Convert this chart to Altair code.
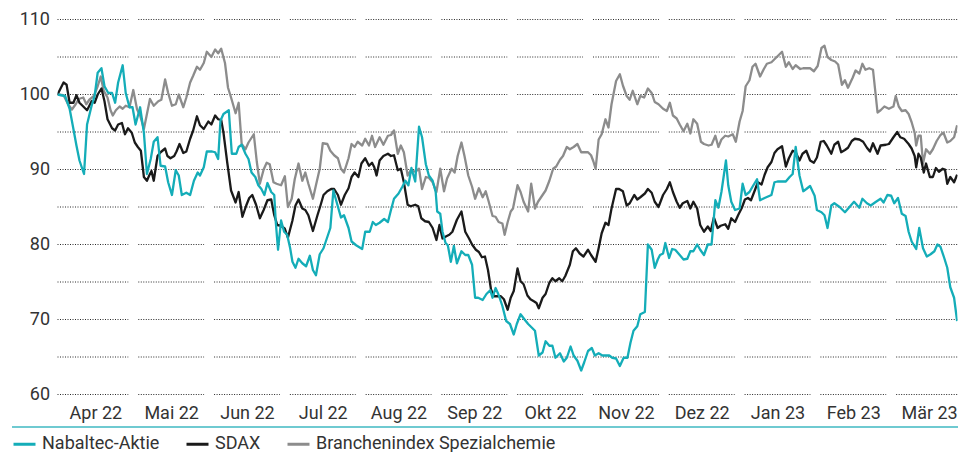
import json
import altair as alt
import pandas as pd

MONTHS = ["Apr 22", "Mai 22", "Jun 22", "Jul 22", "Aug 22", "Sep 22",
          "Okt 22", "Nov 22", "Dez 22", "Jan 23", "Feb 23", "Mär 23"]
SERIES = ["Nabaltec-Aktie", "SDAX", "Branchenindex Spezialchemie"]
COLORS = ["#14adb8", "#1a1a1a", "#8c8c8c"]
GRID_LEVELS = [60, 65, 70, 75, 80, 85, 90, 95, 100, 105, 110]
LABEL_LEVELS = [60, 70, 80, 90, 100, 110]
X_END = 11.875  # last data point, in months since 1 Apr 2022

# Nabaltec-Aktie (month position, indexed value)
nab_m = [0.00, 0.10, 0.16, 0.21, 0.25, 0.29, 0.35, 0.39, 0.45, 0.49, 0.53, 0.58, 0.62, 0.67, 0.72, 0.76, 0.80, 0.86, 0.90, 0.95,
         0.99, 1.03, 1.09, 1.14, 1.18, 1.23, 1.27, 1.32, 1.36, 1.42, 1.46, 1.51, 1.56, 1.60, 1.64, 1.70, 1.75, 1.80, 1.85, 1.88,
         1.93, 1.97, 2.04, 2.08, 2.12, 2.15, 2.19, 2.26, 2.30, 2.36, 2.39, 2.43, 2.48, 2.52, 2.56, 2.61, 2.65, 2.69, 2.73, 2.77,
         2.82, 2.86, 2.88, 2.91, 2.95, 2.99, 3.03, 3.07, 3.10, 3.14, 3.18, 3.23, 3.28, 3.33, 3.37, 3.41, 3.46, 3.51, 3.56, 3.60,
         3.64, 3.69, 3.74, 3.78, 3.84, 3.88, 3.94, 4.02, 4.06, 4.12, 4.16, 4.20, 4.25, 4.31, 4.36, 4.40, 4.44, 4.50, 4.55, 4.59,
         4.63, 4.67, 4.72, 4.77, 4.81, 4.86, 4.90, 4.95, 4.99, 5.01, 5.05, 5.08, 5.12, 5.15, 5.19, 5.23, 5.27, 5.33, 5.38, 5.42,
         5.47, 5.51, 5.55, 5.61, 5.66, 5.71, 5.74, 5.78, 5.82, 5.87, 5.92, 5.97, 6.02, 6.06, 6.11, 6.17, 6.21, 6.25, 6.30, 6.35,
         6.40, 6.44, 6.49, 6.53, 6.57, 6.63, 6.68, 6.72, 6.77, 6.81, 6.86, 6.91, 6.95, 7.00, 7.05, 7.09, 7.14, 7.19, 7.28, 7.32,
         7.37, 7.42, 7.47, 7.52, 7.56, 7.60, 7.65, 7.69, 7.75, 7.79, 7.84, 7.88, 7.92, 7.95, 7.99, 8.02, 8.07, 8.11, 8.15, 8.21,
         8.26, 8.31, 8.35, 8.39, 8.44, 8.48, 8.53, 8.58, 8.63, 8.68, 8.72, 8.76, 8.82, 8.85, 8.89, 8.94, 9.00, 9.04, 9.08, 9.13,
         9.17, 9.23, 9.27, 9.33, 9.42, 9.46, 9.50, 9.56, 9.61, 9.66, 9.70, 9.74, 9.79, 9.84, 9.88, 9.93, 9.99, 10.02, 10.08, 10.12,
         10.16, 10.21, 10.25, 10.32, 10.39, 10.45, 10.51, 10.58, 10.62, 10.68, 10.73, 10.80, 10.86, 10.90, 10.95, 11.00, 11.04, 11.09, 11.14, 11.19,
         11.23, 11.27, 11.33, 11.37, 11.42, 11.47, 11.52, 11.57, 11.61, 11.65, 11.70, 11.74, 11.78, 11.83, 11.87]
nab_v = [100.0, 99.8, 98.1, 95.4, 93.2, 91.2, 89.4, 96.0, 98.5, 99.8, 102.9, 103.5, 101.1, 100.2, 100.2, 98.9, 101.6, 103.9, 100.2, 98.3,
         98.3, 96.0, 98.3, 94.9, 89.4, 91.4, 93.7, 94.3, 90.5, 90.4, 88.3, 86.6, 89.9, 89.2, 86.6, 86.9, 86.6, 88.5, 89.6, 89.2,
         90.3, 92.4, 92.4, 92.3, 91.4, 96.5, 97.4, 97.9, 92.1, 92.1, 93.0, 93.3, 92.1, 91.4, 89.6, 89.0, 87.9, 87.4, 86.6, 88.2,
         87.0, 86.6, 83.0, 79.3, 83.2, 81.7, 81.3, 79.5, 77.7, 76.9, 78.1, 77.5, 77.1, 78.5, 76.6, 75.9, 78.7, 79.5, 81.0, 82.2,
         87.2, 85.4, 83.6, 83.9, 82.2, 80.4, 79.9, 79.4, 81.7, 81.7, 83.0, 82.6, 82.9, 83.4, 83.0, 84.6, 86.1, 86.8, 87.7, 88.5,
         87.9, 90.2, 88.4, 95.7, 94.3, 90.7, 89.2, 88.5, 87.0, 84.4, 84.1, 81.7, 80.2, 79.9, 77.7, 79.8, 77.5, 79.1, 78.6, 78.6,
         77.3, 72.9, 72.9, 72.6, 73.4, 73.9, 72.9, 74.2, 73.3, 71.8, 69.8, 69.4, 68.0, 69.4, 70.7, 69.9, 69.4, 69.0, 68.5, 65.2,
         65.6, 67.1, 66.5, 66.5, 64.9, 65.5, 64.4, 64.9, 66.4, 65.2, 64.5, 63.2, 64.3, 65.8, 66.2, 65.2, 65.5, 65.2, 65.2, 64.9,
         64.8, 63.8, 64.9, 64.9, 66.9, 68.5, 69.1, 70.7, 71.0, 80.0, 79.3, 76.9, 78.0, 78.6, 78.8, 80.2, 78.2, 79.4, 79.3, 78.6,
         78.0, 78.1, 79.1, 79.1, 80.0, 79.3, 78.6, 80.0, 80.0, 85.9, 84.9, 87.0, 91.2, 87.9, 85.7, 84.6, 84.8, 88.1, 86.6, 87.0,
         87.7, 88.7, 85.9, 86.2, 86.6, 88.3, 88.4, 88.4, 88.4, 89.0, 89.4, 93.0, 89.2, 87.1, 87.4, 87.8, 86.5, 84.6, 84.3, 83.9,
         82.2, 85.2, 85.5, 85.0, 84.3, 85.0, 85.7, 84.9, 86.1, 85.5, 85.2, 85.7, 86.1, 85.6, 86.6, 86.5, 85.5, 86.2, 84.1, 83.8,
         81.7, 80.4, 79.4, 82.2, 79.5, 78.4, 78.7, 79.1, 80.0, 79.7, 78.2, 76.9, 74.3, 72.9, 69.8]

# SDAX
sdax_m = [0.00, 0.08, 0.12, 0.16, 0.21, 0.25, 0.29, 0.34, 0.39, 0.45, 0.49, 0.53, 0.58, 0.62, 0.66, 0.72, 0.76, 0.80, 0.85, 0.89,
          0.93, 0.98, 1.02, 1.06, 1.10, 1.14, 1.18, 1.21, 1.24, 1.27, 1.32, 1.36, 1.42, 1.45, 1.49, 1.54, 1.57, 1.61, 1.66, 1.70,
          1.75, 1.79, 1.84, 1.88, 1.93, 1.99, 2.03, 2.08, 2.12, 2.16, 2.19, 2.24, 2.29, 2.35, 2.39, 2.44, 2.49, 2.53, 2.57, 2.62,
          2.67, 2.72, 2.77, 2.82, 2.86, 2.90, 2.95, 3.00, 3.04, 3.10, 3.14, 3.18, 3.23, 3.27, 3.31, 3.37, 3.43, 3.47, 3.51, 3.56,
          3.61, 3.65, 3.70, 3.74, 3.79, 3.84, 3.88, 3.92, 3.97, 4.01, 4.06, 4.11, 4.15, 4.18, 4.21, 4.25, 4.30, 4.36, 4.40, 4.44,
          4.49, 4.53, 4.57, 4.62, 4.66, 4.72, 4.76, 4.80, 4.85, 4.90, 4.95, 5.00, 5.04, 5.08, 5.13, 5.17, 5.21, 5.27, 5.33, 5.38,
          5.43, 5.47, 5.52, 5.56, 5.60, 5.64, 5.68, 5.72, 5.76, 5.81, 5.85, 5.89, 5.94, 5.98, 6.02, 6.07, 6.11, 6.15, 6.20, 6.24,
          6.29, 6.32, 6.35, 6.40, 6.44, 6.49, 6.53, 6.57, 6.62, 6.66, 6.70, 6.76, 6.80, 6.84, 6.89, 6.94, 7.00, 7.04, 7.10, 7.14,
          7.18, 7.23, 7.27, 7.31, 7.37, 7.41, 7.46, 7.51, 7.55, 7.61, 7.65, 7.69, 7.75, 7.79, 7.84, 7.88, 7.93, 7.99, 8.04, 8.08,
          8.12, 8.17, 8.21, 8.25, 8.31, 8.35, 8.39, 8.44, 8.48, 8.53, 8.58, 8.62, 8.66, 8.71, 8.75, 8.81, 8.85, 8.89, 8.94, 8.98,
          9.03, 9.07, 9.11, 9.15, 9.20, 9.24, 9.29, 9.33, 9.37, 9.42, 9.46, 9.50, 9.56, 9.61, 9.65, 9.70, 9.74, 9.79, 9.83, 9.88,
          9.93, 9.98, 10.02, 10.07, 10.11, 10.15, 10.21, 10.25, 10.30, 10.34, 10.39, 10.43, 10.48, 10.52, 10.58, 10.63, 10.68, 10.72, 10.76, 10.82,
          10.86, 10.93, 10.97, 11.03, 11.08, 11.12, 11.17, 11.23, 11.27, 11.31, 11.33, 11.36, 11.39, 11.43, 11.46, 11.51, 11.55, 11.59, 11.63, 11.68,
          11.71, 11.74, 11.78, 11.83, 11.87]
sdax_v = [100.0, 101.6, 101.3, 98.9, 98.9, 99.9, 98.9, 98.4, 97.9, 99.1, 98.9, 100.0, 100.8, 99.1, 96.7, 95.5, 95.2, 96.0, 96.2, 94.7,
          95.5, 94.9, 93.6, 93.0, 92.5, 89.0, 88.5, 89.2, 89.8, 88.5, 91.8, 92.3, 92.8, 91.8, 91.5, 91.8, 92.4, 93.4, 92.2, 92.4,
          94.1, 95.2, 97.1, 95.9, 95.4, 96.4, 96.0, 97.2, 96.7, 96.6, 94.9, 90.9, 87.2, 85.6, 87.0, 83.7, 85.2, 86.2, 86.6, 85.3,
          83.5, 84.6, 85.9, 86.0, 83.9, 82.6, 82.5, 82.1, 80.9, 83.2, 85.2, 86.0, 84.8, 84.6, 83.9, 81.8, 83.9, 85.2, 86.6, 87.1,
          87.4, 87.4, 86.6, 85.3, 86.6, 87.5, 89.0, 89.6, 89.0, 90.8, 91.5, 90.5, 90.9, 90.3, 89.2, 91.2, 91.8, 92.1, 91.8, 91.9,
          89.9, 90.1, 88.3, 85.3, 85.1, 85.3, 85.1, 83.5, 83.1, 83.0, 82.2, 80.6, 82.6, 80.8, 81.1, 81.3, 81.7, 83.3, 84.4, 81.7,
          80.8, 80.0, 79.3, 79.0, 78.3, 78.4, 76.6, 74.0, 73.1, 73.1, 73.1, 72.7, 71.3, 72.9, 73.8, 76.8, 75.1, 74.7, 73.2, 72.7,
          72.4, 72.2, 71.5, 72.9, 73.4, 74.9, 75.5, 75.1, 75.5, 75.1, 75.8, 77.3, 79.1, 79.5, 78.8, 78.4, 79.3, 78.6, 77.7, 79.5,
          81.5, 82.9, 82.6, 84.8, 87.4, 87.4, 87.1, 85.2, 85.5, 86.6, 86.0, 86.3, 86.8, 87.4, 86.9, 85.7, 85.0, 86.6, 87.4, 88.3,
          87.0, 85.7, 84.9, 85.5, 85.8, 84.8, 85.7, 84.8, 82.6, 81.7, 82.4, 81.8, 83.6, 82.2, 82.5, 82.7, 82.1, 83.5, 83.0, 83.9,
          84.9, 86.0, 86.2, 85.9, 87.2, 88.3, 88.0, 89.3, 90.3, 91.0, 92.2, 92.7, 93.1, 90.4, 91.5, 92.5, 92.3, 91.2, 92.1, 92.5,
          91.2, 90.9, 91.6, 93.7, 93.8, 93.2, 92.1, 93.3, 93.7, 92.3, 92.6, 92.9, 93.8, 94.1, 94.0, 93.7, 92.9, 92.4, 93.5, 92.1,
          93.2, 93.3, 93.4, 94.3, 95.0, 94.3, 94.1, 93.4, 92.8, 91.8, 90.3, 92.1, 91.6, 89.6, 90.8, 89.0, 89.0, 90.2, 89.7, 90.1,
          90.0, 88.1, 89.0, 88.3, 89.3]

# Branchenindex Spezialchemie
chem_m = [0.00, 0.08, 0.14, 0.19, 0.24, 0.28, 0.34, 0.38, 0.42, 0.48, 0.53, 0.57, 0.61, 0.66, 0.70, 0.73, 0.77, 0.82, 0.86, 0.90,
          0.95, 1.00, 1.05, 1.09, 1.14, 1.18, 1.22, 1.27, 1.33, 1.37, 1.42, 1.46, 1.51, 1.56, 1.60, 1.66, 1.70, 1.75, 1.79, 1.84,
          1.88, 1.93, 1.97, 2.03, 2.08, 2.12, 2.16, 2.21, 2.25, 2.29, 2.35, 2.39, 2.43, 2.48, 2.52, 2.59, 2.63, 2.67, 2.72, 2.76,
          2.80, 2.85, 2.89, 2.95, 3.00, 3.04, 3.09, 3.13, 3.18, 3.23, 3.27, 3.31, 3.37, 3.41, 3.46, 3.50, 3.56, 3.60, 3.65, 3.70,
          3.74, 3.78, 3.84, 3.88, 3.92, 3.96, 4.02, 4.06, 4.11, 4.15, 4.19, 4.25, 4.30, 4.36, 4.40, 4.44, 4.49, 4.53, 4.57, 4.62,
          4.66, 4.72, 4.77, 4.81, 4.86, 4.90, 4.95, 5.00, 5.05, 5.10, 5.14, 5.20, 5.24, 5.28, 5.33, 5.37, 5.42, 5.47, 5.51, 5.56,
          5.61, 5.65, 5.69, 5.74, 5.78, 5.82, 5.87, 5.90, 5.94, 5.98, 6.01, 6.07, 6.11, 6.15, 6.21, 6.25, 6.30, 6.34, 6.40, 6.44,
          6.49, 6.54, 6.58, 6.63, 6.67, 6.72, 6.76, 6.81, 6.86, 6.91, 6.95, 7.00, 7.04, 7.07, 7.10, 7.14, 7.18, 7.23, 7.27, 7.31,
          7.37, 7.42, 7.46, 7.51, 7.55, 7.59, 7.65, 7.69, 7.74, 7.79, 7.84, 7.88, 7.93, 7.99, 8.04, 8.08, 8.12, 8.17, 8.21, 8.26,
          8.31, 8.35, 8.39, 8.44, 8.49, 8.53, 8.59, 8.63, 8.68, 8.72, 8.76, 8.81, 8.85, 8.91, 8.95, 9.00, 9.04, 9.08, 9.13, 9.17,
          9.21, 9.27, 9.32, 9.36, 9.42, 9.46, 9.50, 9.56, 9.61, 9.65, 9.70, 9.74, 9.80, 9.84, 9.88, 9.93, 9.98, 10.03, 10.08, 10.12,
          10.16, 10.21, 10.26, 10.30, 10.35, 10.39, 10.43, 10.49, 10.53, 10.58, 10.62, 10.66, 10.71, 10.76, 10.82, 10.86, 10.91, 10.97, 11.03, 11.06,
          11.10, 11.14, 11.19, 11.23, 11.27, 11.31, 11.33, 11.36, 11.39, 11.42, 11.46, 11.51, 11.55, 11.60, 11.65, 11.69, 11.74, 11.78, 11.83, 11.87]
chem_v = [100.0, 99.9, 98.7, 98.0, 98.7, 99.4, 99.6, 98.7, 99.3, 99.8, 101.1, 102.4, 100.5, 99.6, 97.9, 97.2, 97.9, 98.4, 98.1, 98.5,
          98.3, 100.6, 98.0, 97.2, 95.4, 97.4, 99.4, 98.5, 99.1, 99.3, 102.0, 100.2, 98.5, 98.7, 100.0, 98.3, 99.6, 101.6, 102.5, 103.7,
          103.3, 104.2, 105.7, 105.0, 106.0, 105.5, 106.1, 104.2, 100.9, 99.6, 97.5, 98.9, 93.4, 92.7, 93.6, 94.7, 91.0, 88.1, 90.0, 90.9,
          90.7, 88.3, 88.1, 87.9, 89.1, 85.0, 86.1, 88.7, 90.8, 88.5, 89.6, 88.1, 86.1, 87.9, 90.1, 93.5, 93.4, 92.5, 91.9, 91.5,
          90.1, 89.6, 91.5, 93.4, 93.0, 93.7, 93.2, 94.1, 93.2, 94.5, 93.0, 94.3, 93.3, 94.5, 94.6, 95.2, 92.1, 93.2, 92.3, 89.2,
          89.9, 89.7, 90.1, 87.4, 89.0, 88.9, 88.3, 87.0, 90.1, 87.1, 88.8, 90.1, 89.6, 91.8, 93.6, 91.8, 89.2, 87.7, 86.1, 87.5,
          86.3, 87.1, 85.7, 83.8, 83.7, 83.0, 82.8, 81.3, 83.0, 84.4, 84.8, 87.9, 87.0, 85.7, 84.4, 88.1, 84.8, 85.7, 86.6, 87.2,
          88.5, 90.1, 90.4, 91.3, 91.8, 93.0, 92.7, 93.0, 93.4, 92.3, 92.3, 92.3, 91.9, 91.1, 90.1, 94.0, 94.7, 96.7, 95.6, 98.7,
          101.8, 102.7, 101.2, 99.8, 99.3, 100.5, 98.7, 99.8, 99.6, 100.8, 100.2, 99.0, 98.7, 98.1, 97.8, 98.9, 97.2, 96.8, 96.0, 95.1,
          96.1, 94.8, 96.7, 96.1, 93.7, 93.4, 93.2, 93.3, 94.5, 93.0, 94.0, 94.5, 94.4, 94.7, 93.7, 96.4, 97.8, 101.1, 101.9, 103.7,
          104.1, 102.4, 103.4, 104.1, 104.3, 104.7, 105.1, 105.7, 103.7, 104.3, 103.4, 103.9, 103.4, 103.5, 103.5, 103.5, 103.1, 103.8, 106.2, 106.5,
          105.0, 104.6, 104.4, 104.0, 101.3, 101.9, 100.9, 102.2, 103.2, 102.8, 104.1, 103.3, 103.5, 103.3, 97.6, 97.9, 98.4, 98.1, 98.4, 99.8,
          98.4, 97.8, 97.9, 97.4, 96.3, 94.9, 93.2, 94.5, 94.5, 90.8, 92.7, 92.1, 92.7, 93.8, 94.6, 94.9, 93.6, 93.8, 94.3, 95.9]

# ---- tables built from the arrays ----
rows = []
for name, ms, vs in [(SERIES[0], nab_m, nab_v), (SERIES[1], sdax_m, sdax_v), (SERIES[2], chem_m, chem_v)]:
    for m, v in zip(ms, vs):
        rows.append({"series": name, "m": m, "v": v})
lines_df = pd.DataFrame(rows)

grid_rows = []
for k in range(len(MONTHS)):
    x0 = 0 if k == 0 else k + 0.066
    x1 = min(k + 0.934, X_END)
    for lvl in GRID_LEVELS:
        grid_rows.append({"x0": x0, "x1": x1, "level": lvl})
grid_df = pd.DataFrame(grid_rows)

FONT = "Roboto"
TEXT = "#333333"
W, H = 900, 375

xs = alt.Scale(domain=[0, X_END], nice=False, zero=False)
ys = alt.Scale(domain=[60, 110], nice=False, zero=False)

label_expr = json.dumps(MONTHS, ensure_ascii=False) + "[floor(datum.value)]"

x_axis = alt.Axis(values=[k + 0.5 for k in range(len(MONTHS))], labelExpr=label_expr,
                  title=None, grid=False, ticks=False, domain=False,
                  labelFontSize=18, labelColor=TEXT, labelFont=FONT, labelPadding=10,
                  labelFlush=False, labelOverlap=False, labelBound=False)
y_axis = alt.Axis(values=LABEL_LEVELS, title=None, grid=False, ticks=False, domain=False,
                  labelFontSize=18, labelColor=TEXT, labelFont=FONT, labelPadding=8)

grid = alt.Chart(grid_df).mark_rule(color="#2a2a2a", strokeWidth=1, strokeDash=[1, 1.5]).encode(
    x=alt.X("x0:Q", scale=xs, axis=x_axis),
    x2="x1:Q",
    y=alt.Y("level:Q", scale=ys, axis=y_axis),
)

sep = alt.Chart(pd.DataFrame({"a": [0]})).mark_rule(color="#3fb8c2", strokeWidth=1.6).encode(
    x=alt.value(-45.5), x2=alt.value(W + 0.5), y=alt.value(407.5)
)

color_scale = alt.Scale(domain=SERIES, range=COLORS)
legend = alt.Legend(orient="none", legendX=-45.5, legendY=412, direction="horizontal", title=None,
                    symbolType="stroke", symbolStrokeWidth=3, symbolSize=484, labelFontSize=18,
                    labelFont=FONT, labelColor=TEXT, columnPadding=20, labelLimit=400, labelOffset=5,
                    padding=0)


def series_layer(name):
    return alt.Chart(lines_df).transform_filter(alt.datum.series == name).mark_line(
        strokeWidth=2.3, strokeJoin="round", clip=True
    ).encode(
        x=alt.X("m:Q", scale=xs, axis=x_axis),
        y=alt.Y("v:Q", scale=ys, axis=y_axis),
        color=alt.Color("series:N", scale=color_scale, legend=legend),
    )


chart = alt.layer(
    grid, sep, series_layer(SERIES[2]), series_layer(SERIES[1]), series_layer(SERIES[0])
).properties(
    width=W, height=H,
    autosize=alt.AutoSizeParams(type="none"),
    padding={"left": 49.5, "top": 11.5, "right": 0.5, "bottom": 57.5},
).configure(font=FONT).configure_view(stroke=None)

chart.save("out.html", embed_options={"renderer": "svg", "actions": False})
